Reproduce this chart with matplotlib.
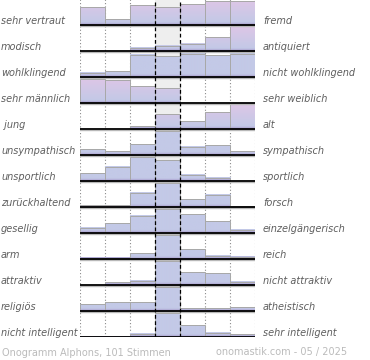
import numpy as np
import matplotlib
matplotlib.use("Agg")
import matplotlib.pyplot as plt
from matplotlib.colors import to_rgb
from matplotlib.patches import Rectangle

# --------------------------------------
# Data (bar heights per row, 7 answer steps, full row = 26)
# --------------------------------------
left_labels = [
    "sehr vertraut", "modisch", "wohlklingend", "sehr männlich", " jung",
    "unsympathisch", "unsportlich", "zurückhaltend", "gesellig", "arm",
    "attraktiv", "religiös", "nicht intelligent",
]
right_labels = [
    "fremd", "antiquiert", "nicht wohlklingend", "sehr weiblich", "alt",
    "sympathisch", "sportlich", "forsch", "einzelgängerisch", "reich",
    "nicht attraktiv", "atheistisch", "sehr intelligent",
]
heights = [
    [17.7, 6.0, 19.7, 18.0, 20.7, 24.0, 23.7],
    [0.0, 0.0, 3.3, 5.3, 7.3, 14.0, 25.0],
    [4.3, 5.7, 22.3, 21.0, 23.3, 22.0, 23.3],
    [24.0, 22.7, 17.0, 15.0, 0.0, 0.0, 0.0],
    [0.0, 0.0, 2.6, 14.6, 7.6, 16.6, 25.3],
    [5.7, 4.0, 10.7, 24.3, 8.3, 9.7, 4.0],
    [7.7, 14.3, 24.3, 21.0, 6.3, 3.3, 0.0],
    [1.7, 1.7, 14.3, 24.0, 7.7, 12.3, 1.0],
    [5.3, 9.7, 17.3, 24.0, 19.0, 11.7, 3.3],
    [1.3, 1.3, 6.0, 24.0, 10.0, 3.3, 2.3],
    [0.0, 2.6, 4.3, 24.0, 13.0, 11.6, 3.3],
    [6.7, 9.0, 9.0, 24.0, 2.7, 2.7, 4.0],
    [0.5, 0.5, 3.3, 24.0, 11.7, 4.3, 2.7],
]
# rows drawn with the pink tint at the top
tinted_rows = [0, 1, 3, 4]

footer_left = "Onogramm Alphons, 101 Stimmen"
footer_right = "onomastik.com - 05 / 2025"

# --- layout (pixels) ---
W, H = 370, 360
ROW_H = 26
N_ROWS = len(heights)
X0, X1 = 80, 255
BOTTOM = 337

C_BOTTOM = np.array(to_rgb("#a597c9"))
C_BLUE = np.array(to_rgb("#c3c9e7"))
C_PINK = np.array(to_rgb("#dfc6e6"))


def bar_colors(f, tinted):
    f = np.asarray(f)
    out = np.empty((len(f), 3))
    for i, v in enumerate(f):
        if v < 0.1:
            t = v / 0.1
            out[i] = C_BOTTOM * (1 - t) + C_BLUE * t
        elif tinted:
            t = min((v - 0.1) / 0.9, 1.0)
            out[i] = C_BLUE * (1 - t) + C_PINK * t
        else:
            out[i] = C_BLUE
    return out


fig = plt.figure(figsize=(W / 100, H / 100), dpi=100)
top_px = BOTTOM - N_ROWS * ROW_H
ax = fig.add_axes([X0 / W, (H - BOTTOM) / H, (X1 - X0) / W, (BOTTOM - top_px) / H])
ax.set_axis_off()

ymax = N_ROWS * ROW_H
ax.axvspan(3, 4, color="#eeeeee", zorder=0, lw=0)

for x in [0, 1, 2, 5, 6, 7]:
    ax.plot([x, x], [0, ymax], color="#8a8a8a", lw=0.8,
            linestyle=(0, (1, 2)), zorder=1)

for r, row in enumerate(heights):
    base = (N_ROWS - 1 - r) * ROW_H
    tinted = r in tinted_rows
    for c, h in enumerate(row):
        if h <= 0:
            continue
        f = np.linspace(0, h / ROW_H, 48)
        img = bar_colors(f, tinted).reshape(-1, 1, 3)
        ax.imshow(img, origin="lower", extent=(c, c + 1, base, base + h),
                  aspect="auto", interpolation="bilinear", zorder=2)
        ax.add_patch(Rectangle((c, base), 1, h, fill=False,
                               edgecolor="#a8a8a8", lw=0.7, zorder=3))
    # baseline + shadow
    ax.plot([0, 7], [base - 1.2, base - 1.2], color="#b8b8b8", lw=1.0, zorder=4)
    ax.plot([0, 7], [base, base], color="black", lw=1.3, zorder=5,
            solid_capstyle="butt")

for x in [3, 4]:
    ax.plot([x, x], [0, ymax], color="black", lw=0.9,
            linestyle=(0, (3, 2)), zorder=6)

ax.set_xlim(0, 7)
ax.set_ylim(0, ymax)

# --- labels ---
for r in range(N_ROWS):
    y_px = 25 + r * ROW_H - 1
    fig.text(1 / W, 1 - y_px / H, left_labels[r], ha="left", va="baseline",
             fontsize=7, style="italic", color="#5e5e5e")
    fig.text(263 / W, 1 - y_px / H, right_labels[r], ha="left", va="baseline",
             fontsize=7, style="italic", color="#5e5e5e")

fig.text(2 / W, 1 - 355.5 / H, footer_left, ha="left", va="baseline",
         fontsize=7, color="#bbbbbb")
fig.text(347 / W, 1 - 355.5 / H, footer_right, ha="right", va="baseline",
         fontsize=7, color="#bbbbbb")

fig.savefig("out.png", dpi=100, facecolor="white")
